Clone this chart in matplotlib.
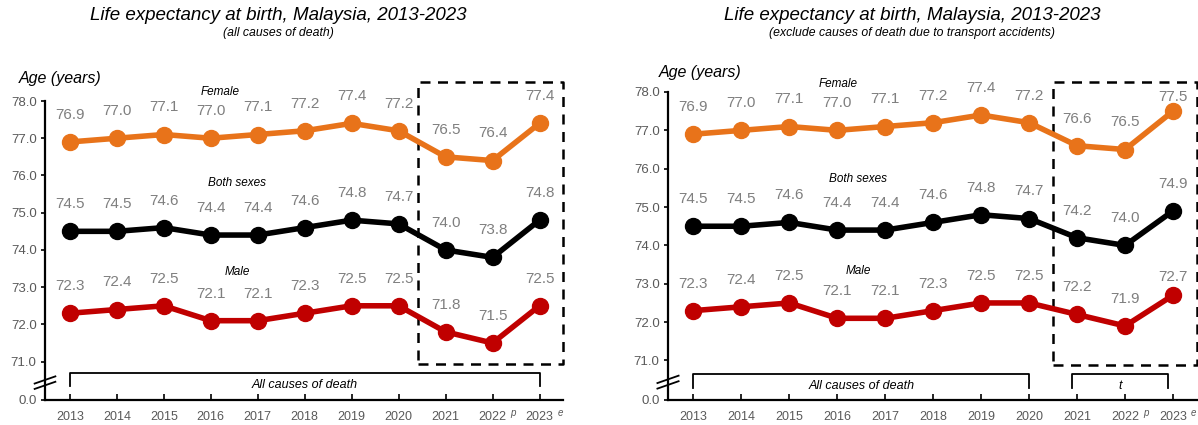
import matplotlib
matplotlib.use("Agg")
import matplotlib.pyplot as plt
from matplotlib import font_manager as fm

names = {f.name for f in fm.fontManager.ttflist}
NARROW = 'Liberation Sans Narrow' if 'Liberation Sans Narrow' in names else 'Liberation Sans'
plt.rcParams['font.family'] = ['Liberation Sans', 'DejaVu Sans']

years = ['2013', '2014', '2015', '2016', '2017', '2018', '2019', '2020', '2021', '2022', '2023']
year_marks = {'2022': 'p', '2023': 'e'}

left_female = [76.9, 77.0, 77.1, 77.0, 77.1, 77.2, 77.4, 77.2, 76.5, 76.4, 77.4]
left_both = [74.5, 74.5, 74.6, 74.4, 74.4, 74.6, 74.8, 74.7, 74.0, 73.8, 74.8]
left_male = [72.3, 72.4, 72.5, 72.1, 72.1, 72.3, 72.5, 72.5, 71.8, 71.5, 72.5]

right_female = [76.9, 77.0, 77.1, 77.0, 77.1, 77.2, 77.4, 77.2, 76.6, 76.5, 77.5]
right_both = [74.5, 74.5, 74.6, 74.4, 74.4, 74.6, 74.8, 74.7, 74.2, 74.0, 74.9]
right_male = [72.3, 72.4, 72.5, 72.1, 72.1, 72.3, 72.5, 72.5, 72.2, 71.9, 72.7]

series_names = ['Female', 'Both sexes', 'Male']
ytick_vals = [78.0, 77.0, 76.0, 75.0, 74.0, 73.0, 72.0, 71.0]
ytick_labels = ['78.0', '77.0', '76.0', '75.0', '74.0', '73.0', '72.0', '71.0', '0.0']
YBREAK = 69.97  # position standing for 0.0 on the broken axis

title = 'Life expectancy at birth, Malaysia, 2013-2023'
left_sub = '(all causes of death)'
right_sub = '(exclude causes of death due to transport accidents)'

colors = ['#E8731A', '#000000', '#C00000']
TICK_GRAY = '#595959'
LABEL_GRAY = '#7F7F7F'

fig = plt.figure(figsize=(11.98, 4.25), dpi=100)
axL = fig.add_axes([45/1198, 1-400/425, (563-45)/1198, (400-101)/425])
axR = fig.add_axes([668/1198, 1-400/425, (1197-668)/1198, (400-92)/425])


def draw(ax, data, name_pos, box, brackets, label_dy):
    x = list(range(len(years)))
    for si, (vals, c) in enumerate(zip(data, colors)):
        ax.plot(x, vals, color=c, lw=4.0, marker='o', ms=11.5, zorder=3,
                solid_capstyle='round')
        for xi, v in zip(x, vals):
            dy = label_dy.get((si, xi), 19.5)
            ax.annotate(f'{v:.1f}', (xi, v), xytext=(0, dy), textcoords='offset points',
                        ha='center', va='center', fontsize=11, color=LABEL_GRAY,
                        zorder=4)
    for nm, (px, py) in zip(series_names, name_pos):
        ax.text(px, py, nm, ha='center', va='center', fontsize=8.5, style='italic',
                family=[NARROW, 'Liberation Sans'], clip_on=False)
    ax.set_xlim(-0.53, 10.5)
    ax.set_ylim(YBREAK, 78.0)
    ax.set_xticks(x)
    ax.set_xticklabels(years, fontsize=9, color=TICK_GRAY)
    ax.set_yticks(ytick_vals + [YBREAK])
    ax.set_yticklabels(ytick_labels, fontsize=9.5, color=TICK_GRAY)
    ax.tick_params(axis='x', direction='in', length=4, width=1.2, pad=8)
    ax.tick_params(axis='y', direction='out', length=3, width=1.2, pad=3)
    for s in ['top', 'right']:
        ax.spines[s].set_visible(False)
    for s in ['left', 'bottom']:
        ax.spines[s].set_linewidth(1.6)
    # superscripts
    for i, y in enumerate(years):
        if y in year_marks:
            ax.annotate(year_marks[y], (i, 0), xycoords=('data', 'axes fraction'),
                        xytext=(13, -9), textcoords='offset points', fontsize=7,
                        style='italic', color=TICK_GRAY, ha='left', va='center',
                        annotation_clip=False)
    # dashed box
    x0, x1, y0, y1 = box
    ax.plot([x0, x1, x1, x0, x0], [y0, y0, y1, y1, y0], color='black', lw=1.8,
            ls=(0, (4, 3)), clip_on=False, zorder=2)
    # brackets
    for bx0, bx1, ytop, ybot, label in brackets:
        ax.plot([bx0, bx0, bx1, bx1], [ybot, ytop, ytop, ybot], color='black', lw=1.3,
                clip_on=False)
        ax.text((bx0 + bx1) / 2, (ytop + YBREAK) / 2 + 0.03, label, ha='center', va='center',
                fontsize=9, style='italic', family=[NARROW, 'Liberation Sans'])
    # axis break marks
    for dy in (-0.006, 0.012):
        ax.plot([-0.02, 0.02], [0.055 + dy - 0.012, 0.055 + dy + 0.012],
                transform=ax.transAxes, color='black', lw=1.3, clip_on=False)
    ax.plot([-0.01, 0.0], [0.05, 0.06], transform=ax.transAxes, color='white', lw=2.5,
            clip_on=False, zorder=0)


draw(axL, [left_female, left_both, left_male],
     [(3.2, 78.24), (3.56, 75.79), (3.56, 73.42)],
     (7.42, 10.49, 70.94, 78.51),
     [(0, 10, 70.70, 70.35, 'All causes of death')],
     {})
draw(axR, [right_female, right_both, right_male],
     [(3.02, 78.21), (3.44, 75.74), (3.44, 73.33)],
     (7.5, 10.49, 70.89, 78.26),
     [(0, 7, 70.65, 70.27, 'All causes of death'), (7.9, 9.9, 70.65, 70.27, 't')],
     {(0, 10): 10.5, (2, 10): 13.5})

for cx, sub in [(278, left_sub), (912, right_sub)]:
    fig.text(cx/1198, 1-16/425, title, ha='center', va='center', fontsize=13.5,
             style='italic')
    fig.text(cx/1198, 1-33/425, sub, ha='center', va='center', fontsize=8.8,
             style='italic', family=[NARROW, 'Liberation Sans'])

fig.text(60/1198, 1-78/425, 'Age (years)', ha='center', va='center', fontsize=11.5, style='italic')
fig.text(700/1198, 1-73/425, 'Age (years)', ha='center', va='center', fontsize=11.5, style='italic')

fig.savefig('out.png', dpi=100)
